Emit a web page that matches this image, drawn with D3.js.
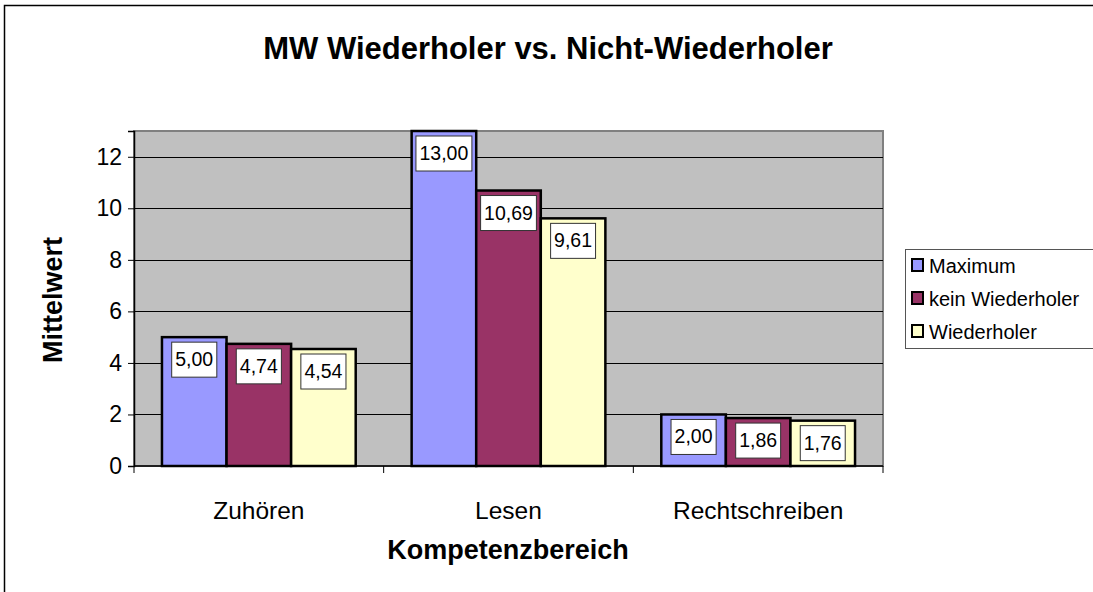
<!DOCTYPE html>
<html>
<head>
<meta charset="utf-8">
<script src="https://cdn.jsdelivr.net/npm/d3@7"></script>
<style>
  body { margin: 0; background: #fff; }
  text { font-family: Arial, "Liberation Sans", sans-serif; }
</style>
</head>
<body>
<div id="chart"></div>
<script>
const categories = ["Zuhören", "Lesen", "Rechtschreiben"];
const seriesNames = ["Maximum", "kein Wiederholer", "Wiederholer"];
const seriesColors = ["#9999FF", "#993366", "#FFFFCC"];
const maximum = [5.00, 13.00, 2.00];
const keinWiederholer = [4.74, 10.69, 1.86];
const wiederholer = [4.54, 9.61, 1.76];
const yTicks = [0, 2, 4, 6, 8, 10, 12];

const W = 1093, H = 592;
const PLOT = {left: 134, top: 131, right: 883, bottom: 466};

const svg = d3.select("#chart").append("svg")
  .attr("width", W).attr("height", H);

// outer chart border (runs off the right/bottom edge)
svg.append("rect")
  .attr("x", 4.5).attr("y", 5.5)
  .attr("width", 1120).attr("height", 620)
  .attr("fill", "#fff").attr("stroke", "#000").attr("stroke-width", 1.5);

const x0 = d3.scaleBand().domain(categories).range([PLOT.left, PLOT.right]);
const gap = x0.bandwidth() * 0.224;
const x1 = d3.scaleBand().domain(seriesNames).range([gap / 2, x0.bandwidth() - gap / 2]);
const y = d3.scaleLinear().domain([0, 13]).range([PLOT.bottom, PLOT.top]);

// plot background
svg.append("rect")
  .attr("x", PLOT.left).attr("y", PLOT.top)
  .attr("width", PLOT.right - PLOT.left).attr("height", PLOT.bottom - PLOT.top)
  .attr("fill", "#C0C0C0").attr("stroke", "#808080").attr("stroke-width", 2);

// gridlines
svg.append("g").selectAll("line")
  .data(yTicks.filter(d => d > 0))
  .join("line")
    .attr("x1", PLOT.left).attr("x2", PLOT.right)
    .attr("y1", d => Math.round(y(d)) + 0.5).attr("y2", d => Math.round(y(d)) + 0.5)
    .attr("stroke", "#000").attr("stroke-width", 1);

// y axis
const yAxis = svg.append("g")
  .attr("transform", `translate(${PLOT.left},0)`)
  .call(d3.axisLeft(y).tickValues(yTicks).tickSize(6).tickPadding(6).tickFormat(d3.format("d")));
yAxis.select(".domain").attr("stroke", "#000").attr("stroke-width", 1.5);
yAxis.selectAll("line").attr("stroke", "#000");
yAxis.selectAll("text").attr("font-size", 23).attr("fill", "#000");

// x axis with ticks at category boundaries
svg.append("line")
  .attr("x1", PLOT.left).attr("x2", PLOT.right)
  .attr("y1", PLOT.bottom).attr("y2", PLOT.bottom)
  .attr("stroke", "#000").attr("stroke-width", 1.5);
const bounds = categories.map(c => x0(c)).concat([x0.range()[1]]);
svg.append("g").selectAll("line")
  .data(bounds)
  .join("line")
    .attr("x1", d => d).attr("x2", d => d)
    .attr("y1", PLOT.bottom).attr("y2", PLOT.bottom + 7)
    .attr("stroke", "#000");
svg.append("g").selectAll("text")
  .data(categories)
  .join("text")
    .attr("x", d => x0(d) + x0.bandwidth() / 2)
    .attr("y", 519)
    .attr("text-anchor", "middle")
    .attr("font-size", 24.5)
    .text(d => d);

// bars
const rows = categories.map((c, i) => ({
  cat: c,
  vals: [maximum[i], keinWiederholer[i], wiederholer[i]]
}));
const groups = svg.append("g").selectAll("g")
  .data(rows)
  .join("g")
    .attr("transform", d => `translate(${x0(d.cat)},0)`);

groups.selectAll("rect")
  .data(d => d.vals.map((v, j) => ({v, s: seriesNames[j], j})))
  .join("rect")
    .attr("x", d => x1(d.s))
    .attr("y", d => y(d.v))
    .attr("width", x1.bandwidth())
    .attr("height", d => y(0) - y(d.v))
    .attr("fill", d => seriesColors[d.j])
    .attr("stroke", "#000").attr("stroke-width", 2.5);

// value labels in white boxes
const fmt = v => d3.format(".2f")(v).replace(".", ",");
groups.each(function(row) {
  const g = d3.select(this);
  row.vals.forEach((v, j) => {
    const cx = x1(seriesNames[j]) + x1.bandwidth() / 2;
    const lbl = g.append("g");
    const t = lbl.append("text")
      .attr("x", cx).attr("y", y(v) + 29)
      .attr("text-anchor", "middle")
      .attr("font-size", 19.5)
      .text(fmt(v));
    const bb = t.node().getBBox();
    lbl.insert("rect", "text")
      .attr("x", cx - bb.width / 2 - 3.5)
      .attr("y", y(v) + 5)
      .attr("width", bb.width + 7)
      .attr("height", 35)
      .attr("fill", "#fff").attr("stroke", "#333").attr("stroke-width", 1);
  });
});

// title
svg.append("text")
  .attr("x", 548).attr("y", 59)
  .attr("text-anchor", "middle")
  .attr("font-size", 31).attr("font-weight", "bold")
  .text("MW Wiederholer vs. Nicht-Wiederholer");

// axis titles
svg.append("text")
  .attr("x", 508).attr("y", 559)
  .attr("text-anchor", "middle")
  .attr("font-size", 27).attr("font-weight", "bold")
  .text("Kompetenzbereich");
svg.append("text")
  .attr("transform", "translate(62,300) rotate(-90)")
  .attr("text-anchor", "middle")
  .attr("font-size", 27).attr("font-weight", "bold")
  .text("Mittelwert");

// legend
const legend = svg.append("g");
legend.append("rect")
  .attr("x", 905.5).attr("y", 249.5)
  .attr("width", 200).attr("height", 99)
  .attr("fill", "#fff").attr("stroke", "#555").attr("stroke-width", 1);
const items = legend.selectAll("g.item")
  .data(seriesNames)
  .join("g")
    .attr("class", "item")
    .attr("transform", (d, i) => `translate(912,${265 + i * 33})`);
items.append("rect")
  .attr("x", 0).attr("y", -6)
  .attr("width", 11).attr("height", 12)
  .attr("fill", (d, i) => seriesColors[i])
  .attr("stroke", "#000").attr("stroke-width", 2);
items.append("text")
  .attr("x", 17).attr("y", 7.5)
  .attr("font-size", 20)
  .text(d => d);
</script>
</body>
</html>
